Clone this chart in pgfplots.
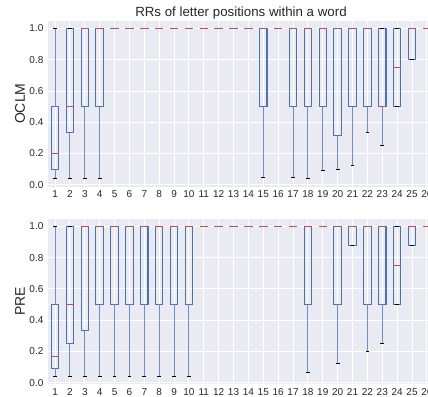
\documentclass[border=0pt]{standalone}
\usepackage{pgfplots}
\usepackage{pgfplotstable}
\pgfplotsset{compat=1.18}
\usepackage{fontspec}
\setmainfont{Liberation Sans}
\definecolor{bgc}{HTML}{EAEAF2}
\definecolor{boxc}{HTML}{4C72B0}
\definecolor{medc}{HTML}{C44E52}
\definecolor{txt}{HTML}{262626}

% OCLM: position, lower whisker, lower quartile, median, upper quartile, upper whisker
\pgfplotstableread{
pos lw lq med uq uw
1 0.037 0.1 0.2 0.5 1
2 0.037 0.333 0.5 1 1
3 0.037 0.5 1 1 1
4 0.037 0.5 1 1 1
5 1 1 1 1 1
6 1 1 1 1 1
7 1 1 1 1 1
8 1 1 1 1 1
9 1 1 1 1 1
10 1 1 1 1 1
11 1 1 1 1 1
12 1 1 1 1 1
13 1 1 1 1 1
14 1 1 1 1 1
15 0.046 0.5 1 1 1
16 1 1 1 1 1
17 0.046 0.5 1 1 1
18 0.042 0.5 1 1 1
19 0.09 0.5 1 1 1
20 0.1 0.3125 1 1 1
21 0.125 0.5 1 1 1
22 0.333 0.5 1 1 1
23 0.25 0.5 0.5 1 1
24 0.5 0.5 0.75 1 1
25 0.8 0.8 1 1 1
26 1 1 1 1 1
}\oclm

% PRE
\pgfplotstableread{
pos lw lq med uq uw
1 0.037 0.0909 0.1667 0.5 1
2 0.037 0.25 0.5 1 1
3 0.037 0.333 1 1 1
4 0.037 0.5 1 1 1
5 0.037 0.5 1 1 1
6 0.037 0.5 1 1 1
7 0.037 0.5 1 1 1
8 0.037 0.5 1 1 1
9 0.04 0.5 1 1 1
10 0.04 0.5 1 1 1
11 1 1 1 1 1
12 1 1 1 1 1
13 1 1 1 1 1
14 1 1 1 1 1
15 1 1 1 1 1
16 1 1 1 1 1
17 1 1 1 1 1
18 0.0625 0.5 1 1 1
19 1 1 1 1 1
20 0.125 0.5 1 1 1
21 0.875 0.875 1 1 1
22 0.2 0.5 1 1 1
23 0.25 0.5 1 1 1
24 0.5 0.5 0.75 1 1
25 0.875 0.875 1 1 1
26 1 1 1 1 1
}\pre

\pgfplotsset{
  vbar/.style={only marks, mark=*, mark options={opacity=0},
    error bars/.cd, y dir=plus, y explicit, error mark=none,
    error bar style={#1}},
  hbar/.style 2 args={only marks, mark=*, mark options={opacity=0},
    error bars/.cd, x dir=both, x fixed=#1, error mark=none,
    error bar style={#2}},
  myax/.style={
    scale only axis, width=386.75pt, height=165.5pt,
    xmin=0.5, xmax=26.5, ymin=-0.0111, ymax=1.0482,
    axis background/.style={fill=bgc},
    axis line style={draw=none},
    xmajorgrids, ymajorgrids,
    major grid style={white, line width=1pt},
    xtick={1,...,26}, ytick={0,0.2,0.4,0.6,0.8,1.0},
    tick style={draw=none}, major tick length=0pt,
    /pgf/number format/assume math mode=true,
    tick label style={font=\fontsize{10}{12}\selectfont, text=txt},
    y tick label style={/pgf/number format/fixed, /pgf/number format/fixed zerofill, /pgf/number format/precision=1, anchor=east, inner sep=0pt, xshift=-4pt},
    x tick label style={anchor=base, inner sep=0pt, yshift=-11.2pt},
    every axis y label/.style={at={(axis description cs:-0.0711,0.5)}, rotate=90, anchor=center, font=\fontsize{14}{16}\selectfont, text=txt},
  },
}

\newcommand\drawboxes[1]{%
  % box sides
  \addplot[vbar={boxc, line width=1.1pt, line cap=rect}] table[x expr=\thisrow{pos}-0.25, y=lq, y error plus expr=\thisrow{uq}-\thisrow{lq}] {#1};
  \addplot[vbar={boxc, line width=1.1pt, line cap=rect}] table[x expr=\thisrow{pos}+0.25, y=lq, y error plus expr=\thisrow{uq}-\thisrow{lq}] {#1};
  % box bottom and top
  \addplot[hbar={0.25}{boxc, line width=1.1pt, line cap=rect}] table[x=pos, y=lq] {#1};
  \addplot[hbar={0.25}{boxc, line width=1.1pt, line cap=rect}] table[x=pos, y=uq] {#1};
  % whiskers
  \addplot[vbar={boxc!80!white, line width=1pt}] table[x=pos, y=lw, y error plus expr=\thisrow{lq}-\thisrow{lw}] {#1};
  \addplot[vbar={boxc!80!white, line width=1pt}] table[x=pos, y=uq, y error plus expr=\thisrow{uw}-\thisrow{uq}] {#1};
  % caps
  \addplot[hbar={0.125}{black, line width=1pt}] table[x=pos, y=lw] {#1};
  \addplot[hbar={0.125}{black, line width=1pt}] table[x=pos, y=uw] {#1};
  % medians
  \addplot[hbar={0.25}{medc, line width=1.1pt}] table[x=pos, y=med] {#1};
}

\begin{document}
\begin{tikzpicture}
\begin{axis}[myax, at={(0,0)}, anchor=north west,
  ylabel={OCLM},
  title={RRs of letter positions within a word},
  every axis title shift=0pt,
  title style={at={(axis description cs:0.5,1)}, anchor=base, yshift=4.3pt, font=\fontsize{13.3}{15}\selectfont, text=txt},
]
\drawboxes{\oclm}
\end{axis}
\begin{axis}[myax, at={(0,-197.8pt)}, anchor=north west,
  ylabel={PRE},
]
\drawboxes{\pre}
\end{axis}
\pgfresetboundingbox
\path[use as bounding box] (-47.6pt,21pt) rectangle (380.4pt,-375pt);
\end{tikzpicture}
\end{document}
